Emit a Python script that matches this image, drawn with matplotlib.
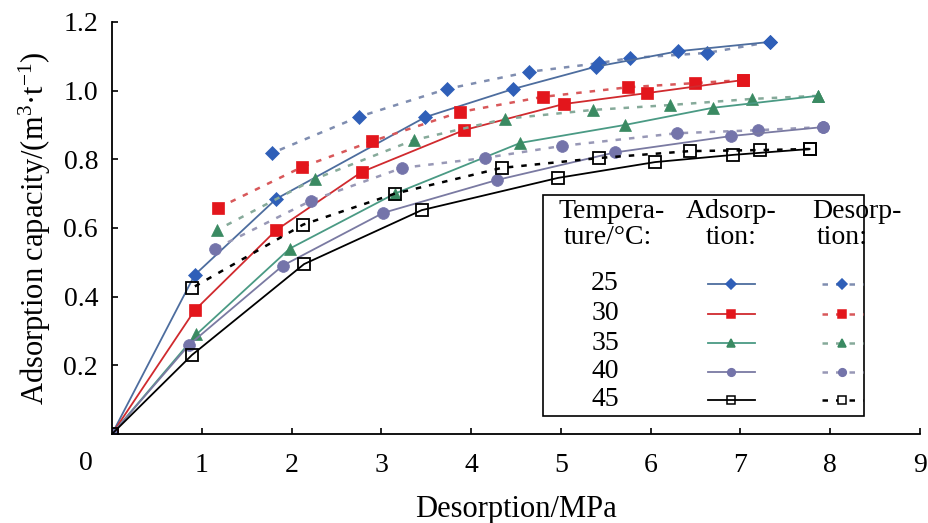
import matplotlib

matplotlib.use("Agg")

import matplotlib.pyplot as plt
from matplotlib.lines import Line2D
from matplotlib.patches import Rectangle

plt.rcParams["font.family"] = ["Liberation Serif", "DejaVu Serif"]
plt.rcParams["mathtext.fontset"] = "custom"
plt.rcParams["mathtext.rm"] = "Liberation Serif"
plt.rcParams["mathtext.it"] = "Liberation Serif:italic"

# Temperatures (°C)
temps = ["25", "30", "35", "40", "45"]

# Adsorption branch: pressure (MPa) and capacity (m3/t)
p_ads_25 = [0, 0.92, 1.83, 3.49, 4.47, 5.39, 6.31, 7.33]
q_ads_25 = [0, 0.463, 0.685, 0.923, 1.005, 1.07, 1.115, 1.142]
p_ads_30 = [0, 0.92, 1.83, 2.78, 3.92, 5.03, 5.96, 7.03]
q_ads_30 = [0, 0.36, 0.594, 0.763, 0.885, 0.961, 0.993, 1.031]
p_ads_35 = [0, 0.94, 1.98, 3.15, 4.55, 5.71, 6.69, 7.86]
q_ads_35 = [0, 0.29, 0.54, 0.70, 0.848, 0.90, 0.95, 0.985]
p_ads_40 = [0, 0.86, 1.90, 3.02, 4.29, 5.60, 6.90, 7.92]
q_ads_40 = [0, 0.26, 0.49, 0.644, 0.74, 0.82, 0.868, 0.894]
p_ads_45 = [0, 0.89, 2.14, 3.45, 4.97, 6.05, 6.92, 7.77]
q_ads_45 = [0, 0.23, 0.495, 0.652, 0.746, 0.792, 0.813, 0.83]

# Desorption branch
p_des_25 = [7.33, 6.63, 5.77, 5.42, 4.65, 3.73, 2.75, 1.78]
q_des_25 = [1.142, 1.11, 1.095, 1.08, 1.055, 1.005, 0.924, 0.818]
p_des_30 = [7.03, 6.49, 5.75, 4.80, 3.88, 2.90, 2.12, 1.18]
q_des_30 = [1.031, 1.022, 1.01, 0.982, 0.938, 0.853, 0.778, 0.658]
p_des_35 = [7.86, 7.13, 6.21, 5.36, 4.38, 3.36, 2.26, 1.17]
q_des_35 = [0.985, 0.976, 0.958, 0.944, 0.918, 0.856, 0.743, 0.594]
p_des_40 = [7.92, 7.20, 6.29, 5.01, 4.15, 3.23, 2.22, 1.15]
q_des_40 = [0.894, 0.885, 0.876, 0.839, 0.804, 0.775, 0.68, 0.54]
p_des_45 = [7.77, 7.22, 6.44, 5.43, 4.34, 3.15, 2.13, 0.89]
q_des_45 = [0.83, 0.827, 0.824, 0.804, 0.775, 0.70, 0.61, 0.425]

x_ticks = [1, 2, 3, 4, 5, 6, 7, 8, 9]
y_ticks = [0.2, 0.4, 0.6, 0.8, 1.0, 1.2]

ads = [(p_ads_25, q_ads_25), (p_ads_30, q_ads_30), (p_ads_35, q_ads_35),
       (p_ads_40, q_ads_40), (p_ads_45, q_ads_45)]
des = [(p_des_25, q_des_25), (p_des_30, q_des_30), (p_des_35, q_des_35),
       (p_des_40, q_des_40), (p_des_45, q_des_45)]

# marker, marker face, solid line colour, dashed line colour, marker size
styles = [
    ("D", "#2f5fb8", "#4d6d9e", "#7f8db0", 7.5),
    ("s", "#e3161c", "#d02a2e", "#d8585a", 8.5),
    ("^", "#3a8a62", "#4a9a84", "#86aa9a", 9),
    ("o", "#7474aa", "#7a7aa2", "#9898b6", 8.5),
    ("s", "none", "#000000", "#000000", 8),
]

fig = plt.figure(figsize=(9.29, 5.23), dpi=100)
ax = fig.add_axes([112 / 929, 1 - 434 / 523, 808 / 929, 412 / 523])

for (pa, qa), (pd_, qd), (mk, mfc, lc, dc, ms) in zip(ads, des, styles):
    mec = "#000000" if mfc == "none" else mfc
    ax.plot(pd_, qd, color=dc, lw=1.8, dashes=(2.2, 3.2), marker=mk, ms=ms,
            mfc=mfc, mec=mec, mew=1.3 if mfc == "none" else 0.5)
    ax.plot(pa, qa, color=lc, lw=1.3, marker=mk, ms=ms,
            mfc=mfc, mec=mec, mew=1.3 if mfc == "none" else 0.5)

ax.set_xlim(0, 9)
ax.set_ylim(0, 1.2)
ax.set_xticks(x_ticks)
ax.set_yticks(y_ticks)
ax.set_yticklabels([f"{v:.1f}" for v in y_ticks])
ax.tick_params(direction="in", length=4.5, width=1.2, labelsize=20)
ax.tick_params(axis="x", pad=14)
ax.tick_params(axis="y", pad=10)
for side in ("top", "right"):
    ax.spines[side].set_visible(False)
for side in ("left", "bottom"):
    ax.spines[side].set_linewidth(1.3)
ax.annotate("0", xy=(0, 0), xytext=(-19, -21), textcoords="offset points",
            ha="center", va="center", fontsize=20, annotation_clip=False)

ax.set_xlabel("Desorption/MPa", fontsize=22, va="center")
ax.xaxis.set_label_coords(0.5, -0.184)
ax.set_ylabel(r"Adsorption capacity/(m$^{3}$·t$^{-1}$)", fontsize=22, va="center")
ax.yaxis.set_label_coords(-0.096, 0.5)


# legend drawn as a small table, positions in pixels of the axes box
def fx(px):
    return (px - 112) / 808


def fy(py):
    return (434 - py) / 412


tr = ax.transAxes
ax.add_patch(Rectangle((fx(543), fy(416)), fx(864) - fx(543), fy(195) - fy(416),
                       transform=tr, fill=True, fc="white", ec="black", lw=1.2,
                       zorder=5, clip_on=False))
leg_fs = 20
for txt, cx, cy in [("Tempera-", 612, 212), ("Adsorp-", 731, 212), ("Desorp-", 857, 212),
                    ("ture/°C:", 608, 237), ("tion:", 731, 237), ("tion:", 842, 237)]:
    ax.text(fx(cx), fy(cy), txt, transform=tr, ha="center", va="center",
            fontsize=leg_fs, zorder=6, clip_on=False)

row_y = [284, 314, 343, 372, 400]
for t, ry, (mk, mfc, lc, dc, ms) in zip(temps, row_y, styles):
    mec = "#000000" if mfc == "none" else mfc
    ax.text(fx(605), fy(ry), t, transform=tr, ha="center", va="center",
            fontsize=leg_fs, zorder=6)
    ax.add_line(Line2D([fx(708), fx(755)], [fy(ry), fy(ry)], transform=tr,
                       color=lc, lw=1.3, zorder=6))
    ax.add_line(Line2D([fx(731)], [fy(ry)], transform=tr, marker=mk, ms=5.5,
                       mfc=mfc, mec=mec, mew=1.1, zorder=7))
    ax.add_line(Line2D([fx(822), fx(863)], [fy(ry), fy(ry)], transform=tr,
                       color=dc, lw=1.8, dashes=(2.2, 3.2), zorder=6))
    ax.add_line(Line2D([fx(842)], [fy(ry)], transform=tr, marker=mk, ms=5.5,
                       mfc="white" if mfc == "none" else mfc, mec=mec, mew=1.1, zorder=7))

fig.savefig("out.png", dpi=100)
